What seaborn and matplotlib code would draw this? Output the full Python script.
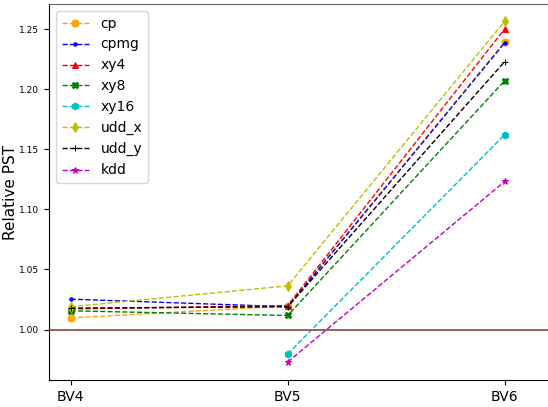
import numpy as np
import pandas as pd
import matplotlib
matplotlib.use("Agg")
import matplotlib.pyplot as plt
import seaborn as sns

# relative PST per backend
backends = ["BV4", "BV5", "BV6"]
cp = [1.0097, 1.0197, 1.2395]
cpmg = [1.0253, 1.0190, 1.2387]
xy4 = [1.0172, 1.0200, 1.2503]
xy8 = [1.0156, 1.0117, 1.2072]
xy16 = [np.nan, 0.9797, 1.1622]
udd_x = [1.0190, 1.0364, 1.2567]
udd_y = [1.0178, 1.0190, 1.2231]
kdd = [np.nan, 0.9730, 1.1233]

series = {"cp": cp, "cpmg": cpmg, "xy4": xy4, "xy8": xy8,
          "xy16": xy16, "udd_x": udd_x, "udd_y": udd_y, "kdd": kdd}
colors = {"cp": "orange", "cpmg": "b", "xy4": "r", "xy8": "g",
          "xy16": "c", "udd_x": "y", "udd_y": "k", "kdd": "m"}
markers = {"cp": "o", "cpmg": ".", "xy4": "^", "xy8": "X",
           "xy16": "h", "udd_x": "d", "udd_y": "+", "kdd": "*"}

fig = plt.figure(figsize=(5.48, 4.07), dpi=100)
ax = fig.add_axes([49 / 548, 27 / 407, 520 / 548, 376 / 407])

xpos = np.arange(len(backends))
for name, vals in series.items():
    df = pd.DataFrame({"x": xpos, "pst": vals}).dropna()
    sns.lineplot(data=df, x="x", y="pst", ax=ax, color=colors[name],
                 marker=markers[name], linestyle="--", linewidth=1,
                 markersize=5, label=name)

for ln in ax.lines:
    ln.set_markeredgecolor(ln.get_color())

ax.axhline(1.0, color="tab:brown", linewidth=1.3)

ax.set_xticks(xpos)
ax.set_xticklabels(backends, fontsize=10)
ax.tick_params(axis="y", labelsize=6.5)
ax.set_xlim(-0.1, -0.1 + 520 / 217)
ax.set_ylim(0.958, 1.271)
ax.set_xlabel("")
ax.set_ylabel("Relative PST", fontsize=11)
ax.yaxis.set_label_coords(-0.06, 0.5)
ax.spines["top"].set_color("#666666")
ax.legend(loc="upper left", fontsize=10)

fig.savefig("out.png", dpi=100)
